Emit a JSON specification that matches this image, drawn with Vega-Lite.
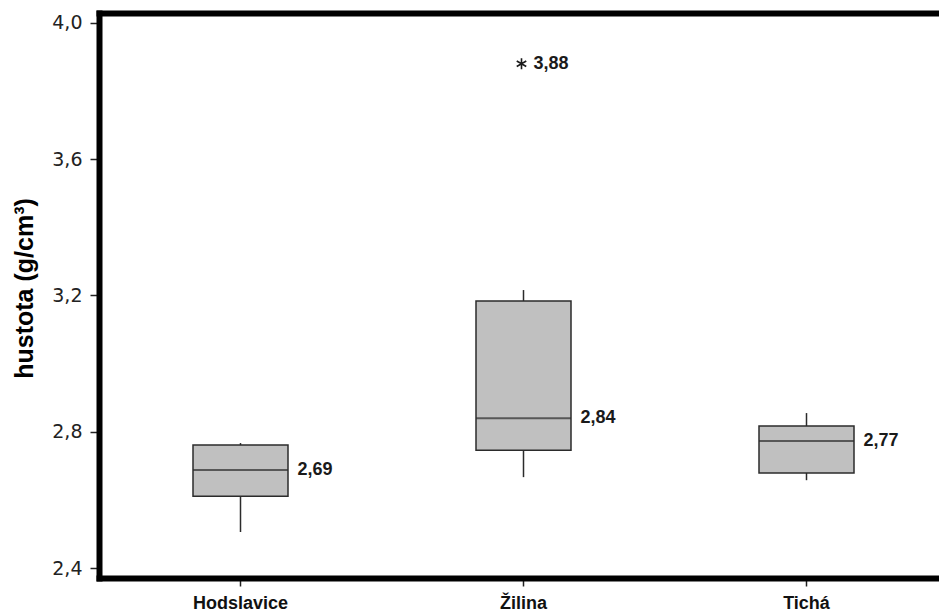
{
  "$schema": "https://vega.github.io/schema/vega-lite/v6.json",
  "autosize": {"type": "none"},
  "width": 840,
  "height": 565,
  "padding": {"left": 99, "top": 13, "right": 0, "bottom": 35},
  "background": "white",
  "view": {"stroke": null},
  "config": {
    "font": "Liberation Sans"
  },
  "datasets": {
    "boxes": [
      {"lokalita": "Hodslavice", "min": 2.506, "q1": 2.611, "median": 2.688, "q3": 2.761, "max": 2.767, "label": "2,69"},
      {"lokalita": "Žilina", "min": 2.667, "q1": 2.746, "median": 2.840, "q3": 3.184, "max": 3.216, "label": "2,84"},
      {"lokalita": "Tichá", "min": 2.658, "q1": 2.679, "median": 2.773, "q3": 2.817, "max": 2.855, "label": "2,77"}
    ],
    "outliers": [
      {"lokalita": "Žilina", "value": 3.88, "label": "3,88"}
    ]
  },
  "resolve": {"axis": {"x": "independent"}},
  "layer": [
    {
      "data": {"name": "boxes"},
      "mark": {"type": "rule", "stroke": "#2b2b2b", "strokeWidth": 1.5},
      "encoding": {
        "x": {
          "field": "lokalita", "type": "nominal",
          "scale": {"domain": ["Hodslavice", "Žilina", "Tichá"], "range": [0, 849], "paddingInner": 0, "paddingOuter": 0},
          "axis": {
            "orient": "bottom", "title": null, "labelAngle": 0,
            "domainColor": "black", "domainWidth": 6, "domainCap": "square",
            "tickColor": "#222", "tickSize": 8, "tickWidth": 1.5,
            "labelFont": "Liberation Sans", "labelFontWeight": "bold", "labelFontSize": 18,
            "labelColor": "#111", "labelPadding": 8
          }
        },
        "y": {
          "field": "min", "type": "quantitative",
          "scale": {"domain": [2.371, 4.029], "nice": false, "zero": false},
          "axis": {
            "title": "hustota (g/cm³)",
            "values": [2.4, 2.8, 3.2, 3.6, 4.0],
            "labelExpr": "replace(format(datum.value, '.1f'), '.', ',')",
            "grid": false,
            "domainColor": "black", "domainWidth": 6, "domainCap": "square",
            "tickColor": "#222", "tickSize": 9, "tickWidth": 1.5,
            "labelFont": "DejaVu Sans", "labelFontSize": 19, "labelColor": "#222", "labelPadding": 8,
            "titleFont": "Liberation Sans", "titleFontWeight": "bold", "titleFontSize": 25, "titleColor": "#000",
            "titleAngle": -90, "titleX": -75, "titleY": 275, "titleAlign": "center", "titleBaseline": "middle"
          }
        },
        "y2": {"field": "max"}
      }
    },
    {
      "data": {"name": "boxes"},
      "mark": {"type": "bar", "width": 95, "fill": "#c0c0c0", "stroke": "#2b2b2b", "strokeWidth": 1.5},
      "encoding": {
        "x": {
          "field": "lokalita", "type": "nominal",
          "axis": {"orient": "top", "title": null, "labels": false, "ticks": false,
                   "domainColor": "black", "domainWidth": 6, "domainCap": "square"}
        },
        "y": {"field": "q1", "type": "quantitative"},
        "y2": {"field": "q3"}
      }
    },
    {
      "data": {"name": "boxes"},
      "mark": {"type": "tick", "size": 95, "thickness": 2, "color": "#2b2b2b"},
      "encoding": {
        "x": {"field": "lokalita", "type": "nominal", "axis": null},
        "y": {"field": "median", "type": "quantitative"}
      }
    },
    {
      "data": {"name": "boxes"},
      "mark": {"type": "text", "align": "left", "baseline": "middle", "dx": 57, "font": "Liberation Sans", "fontWeight": "bold", "fontSize": 18, "color": "#1a1a1a"},
      "encoding": {
        "x": {"field": "lokalita", "type": "nominal", "axis": null},
        "y": {"field": "median", "type": "quantitative"},
        "text": {"field": "label"}
      }
    },
    {
      "data": {"name": "outliers"},
      "mark": {"type": "point", "shape": "M0,-1L0,1M-0.87,-0.5L0.87,0.5M-0.87,0.5L0.87,-0.5", "size": 120, "filled": false, "stroke": "#1a1a1a", "strokeWidth": 1.6, "opacity": 1, "xOffset": -2},
      "encoding": {
        "x": {"field": "lokalita", "type": "nominal", "axis": null},
        "y": {"field": "value", "type": "quantitative"}
      }
    },
    {
      "data": {"name": "outliers"},
      "mark": {"type": "text", "align": "left", "baseline": "middle", "dx": 10, "font": "Liberation Sans", "fontWeight": "bold", "fontSize": 18, "color": "#1a1a1a"},
      "encoding": {
        "x": {"field": "lokalita", "type": "nominal", "axis": null},
        "y": {"field": "value", "type": "quantitative"},
        "text": {"field": "label"}
      }
    }
  ]
}
